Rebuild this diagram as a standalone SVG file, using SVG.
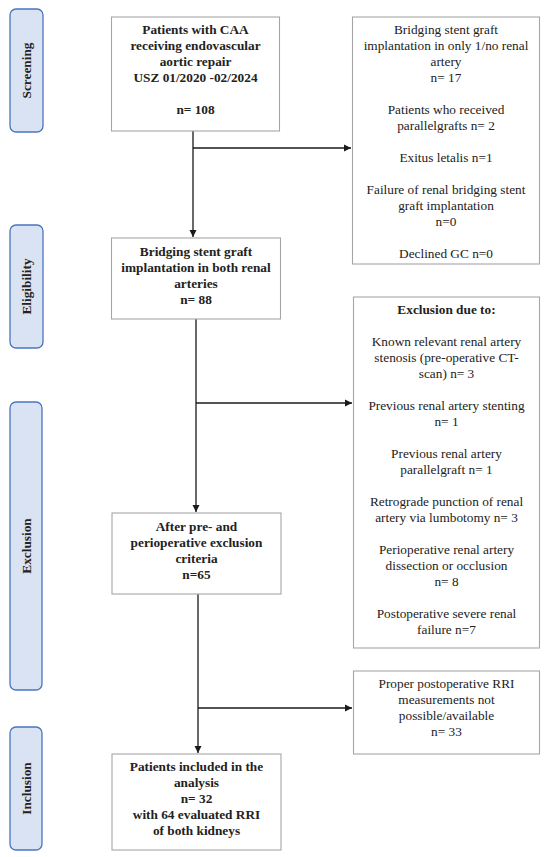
<svg xmlns="http://www.w3.org/2000/svg" width="550" height="857" viewBox="0 0 550 857">
<style>
.bg{fill:#ffffff}
.phase rect{fill:#dae3f3;stroke:#4a76bd;stroke-width:1.3}
.phase text{font-family:"Liberation Serif",serif;font-weight:bold;font-size:13.3px;fill:#222;text-anchor:middle}
.box rect{fill:#ffffff;stroke:#a6a6a6;stroke-width:1.1}
.box text{font-family:"Liberation Serif",serif;font-size:13.3px;fill:#222;text-anchor:middle}
.b text{font-weight:bold}
.conn line{stroke:#1a1a1a;stroke-width:1.3}
</style>
<defs>
<marker id="ah" markerWidth="8" markerHeight="8" refX="7" refY="4" orient="auto" markerUnits="userSpaceOnUse">
<path d="M0,0.5 L7,4 L0,7.5 Z" fill="#1a1a1a"/>
</marker>
</defs>
<rect class="bg" x="0" y="0" width="550" height="857"/>

<g id="phase-screening" class="phase">
<rect x="10" y="9" width="33" height="123" rx="6"/>
<text transform="translate(31,70.5) rotate(-90)">Screening</text>
</g>
<g id="phase-eligibility" class="phase">
<rect x="10" y="225" width="33" height="123" rx="6"/>
<text transform="translate(31,286.5) rotate(-90)">Eligibility</text>
</g>
<g id="phase-exclusion" class="phase">
<rect x="10" y="402" width="32" height="288" rx="6"/>
<text transform="translate(30.5,546) rotate(-90)">Exclusion</text>
</g>
<g id="phase-inclusion" class="phase">
<rect x="10" y="727" width="32" height="123" rx="6"/>
<text transform="translate(30.5,788.5) rotate(-90)">Inclusion</text>
</g>

<g id="connectors" class="conn">
<line x1="193" y1="131" x2="193" y2="237" marker-end="url(#ah)"/>
<line x1="193" y1="148" x2="351" y2="148" marker-end="url(#ah)"/>
<line x1="196" y1="319" x2="196" y2="512" marker-end="url(#ah)"/>
<line x1="196" y1="403" x2="352" y2="403" marker-end="url(#ah)"/>
<line x1="198" y1="594" x2="198" y2="753" marker-end="url(#ah)"/>
<line x1="198" y1="708" x2="352" y2="708" marker-end="url(#ah)"/>
</g>

<g id="box-screened" class="box b">
<rect x="111.5" y="17" width="168" height="114"/>
<text x="195.5" y="34">Patients with CAA</text>
<text x="195.5" y="50">receiving endovascular</text>
<text x="195.5" y="66">aortic repair</text>
<text x="195.5" y="82">USZ 01/2020 -02/2024</text>
<text x="195.5" y="114">n= 108</text>
</g>

<g id="box-excluded-1" class="box">
<rect x="352.5" y="17" width="187" height="247"/>
<text x="446" y="34">Bridging stent graft</text>
<text x="446" y="50">implantation in only 1/no renal</text>
<text x="446" y="66">artery</text>
<text x="446" y="82">n= 17</text>
<text x="446" y="114">Patients who received</text>
<text x="446" y="130">parallelgrafts n= 2</text>
<text x="446" y="162">Exitus letalis n=1</text>
<text x="446" y="194">Failure of renal bridging stent</text>
<text x="446" y="210">graft implantation</text>
<text x="446" y="226">n=0</text>
<text x="446" y="258">Declined GC n=0</text>
</g>

<g id="box-eligible" class="box b">
<rect x="111.5" y="238" width="169" height="81"/>
<text x="196" y="256">Bridging stent graft</text>
<text x="196" y="272">implantation in both renal</text>
<text x="196" y="288">arteries</text>
<text x="196" y="304">n= 88</text>
</g>

<g id="box-excluded-2" class="box">
<rect x="353.5" y="297" width="186" height="351"/>
<text x="446.5" y="314" font-weight="bold">Exclusion due to:</text>
<text x="446.5" y="346">Known relevant renal artery</text>
<text x="446.5" y="362">stenosis (pre-operative CT-</text>
<text x="446.5" y="378">scan) n= 3</text>
<text x="446.5" y="410">Previous renal artery stenting</text>
<text x="446.5" y="426">n= 1</text>
<text x="446.5" y="458">Previous renal artery</text>
<text x="446.5" y="474">parallelgraft n= 1</text>
<text x="446.5" y="506">Retrograde punction of renal</text>
<text x="446.5" y="522">artery via lumbotomy n= 3</text>
<text x="446.5" y="554">Perioperative renal artery</text>
<text x="446.5" y="570">dissection or occlusion</text>
<text x="446.5" y="586">n= 8</text>
<text x="446.5" y="618">Postoperative severe renal</text>
<text x="446.5" y="634">failure n=7</text>
</g>

<g id="box-after-exclusion" class="box b">
<rect x="112" y="513" width="169" height="81"/>
<text x="196.5" y="531">After pre- and</text>
<text x="196.5" y="547">perioperative exclusion</text>
<text x="196.5" y="563">criteria</text>
<text x="196.5" y="579">n=65</text>
</g>

<g id="box-excluded-3" class="box">
<rect x="353.5" y="671" width="186" height="83"/>
<text x="446.5" y="688">Proper postoperative RRI</text>
<text x="446.5" y="704">measurements not</text>
<text x="446.5" y="720">possible/available</text>
<text x="446.5" y="736">n= 33</text>
</g>

<g id="box-included" class="box b">
<rect x="112" y="754" width="169" height="96"/>
<text x="196.5" y="771">Patients included in the</text>
<text x="196.5" y="787">analysis</text>
<text x="196.5" y="803">n= 32</text>
<text x="196.5" y="819">with 64 evaluated RRI</text>
<text x="196.5" y="835">of both kidneys</text>
</g>
</svg>
